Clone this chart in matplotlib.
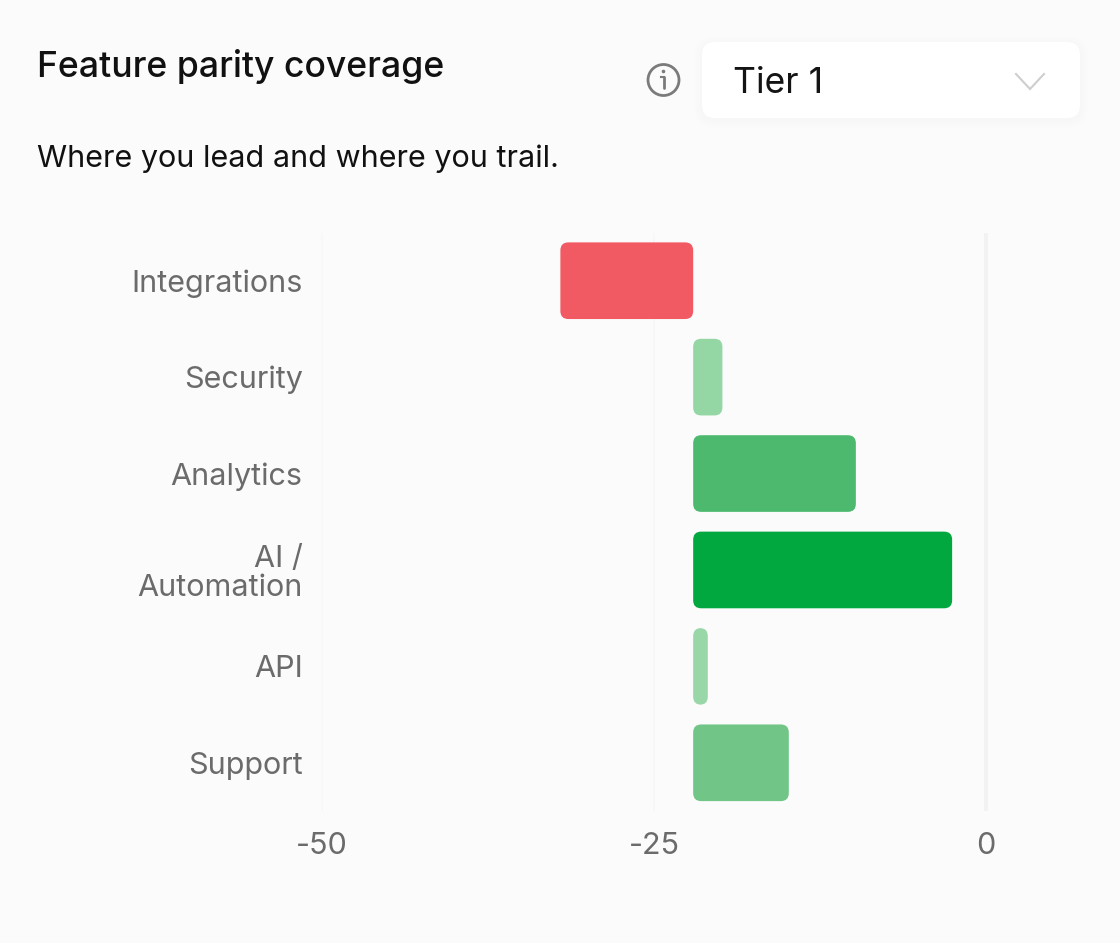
import matplotlib
matplotlib.use('Agg')
from matplotlib import pyplot as plt
from matplotlib.patches import FancyBboxPatch, Circle

plt.rcParams['font.family'] = ['Inter', 'DejaVu Sans']

categories = ['Integrations', 'Security', 'Analytics', 'AI /\nAutomation', 'API', 'Support']
baseline = -22.05
gaps = [-10.0, 2.2, 12.25, 19.5, 1.1, 7.2]
x_ticks = [-50, -25, 0]
bar_colors = ['#F25A63', '#95D6A5', '#4CB96F', '#00A83F', '#99D7A8', '#70C587']

W, H = 1120, 943
BG = '#FBFBFB'
TEXT_GRAY = '#6B6B6B'


def fx(px):
    return px / W


def fy(py):
    return 1 - py / H


fig = plt.figure(figsize=(W / 100, H / 100), dpi=100, facecolor=BG)

# plot area spans the -50..0 range, six equal rows
left, right, top, bottom = 322, 986, 232.5, 811
ax = fig.add_axes([fx(left), fy(bottom), (right - left) / W, (bottom - top) / H])
ax.set_facecolor('none')
ax.set_xlim(-50, 0)
ax.set_ylim(len(categories) - 0.5, -0.5)
for s in ax.spines.values():
    s.set_visible(False)

ax.axvline(-50, color='#F8F8F8', lw=1.4, clip_on=False, zorder=1, solid_capstyle='butt')
ax.axvline(-25, color='#F7F7F7', lw=1.4, clip_on=False, zorder=1, solid_capstyle='butt')
ax.axvline(0, color='#F2F2F2', lw=2.6, clip_on=False, zorder=1, solid_capstyle='butt')

# rounded bars, all starting from the shared baseline
px_x = (right - left) / 50
px_y = (bottom - top) / len(categories)
radius = 8 / px_x
bar_h = 0.795
for i, gap in enumerate(gaps):
    x0 = min(baseline, baseline + gap)
    ax.add_patch(FancyBboxPatch((x0, i - bar_h / 2), abs(gap), bar_h,
                                boxstyle='round,pad=0,rounding_size=%f' % radius,
                                mutation_aspect=px_x / px_y,
                                fc=bar_colors[i], ec='none', zorder=3))

ax.set_xticks(x_ticks)
ax.set_xticklabels([str(t) for t in x_ticks])
ax.set_yticks(range(len(categories)))
ax.set_yticklabels(categories, linespacing=1.05, ha='right', multialignment='right')
ax.tick_params(axis='both', length=0, labelsize=22, labelcolor=TEXT_GRAY)
ax.tick_params(axis='x', pad=15)
ax.tick_params(axis='y', pad=14)

# header texts
fig.text(fx(37), fy(77), 'Feature parity coverage', fontsize=25.6, fontweight=500,
         color='#111111', va='baseline')
fig.text(fx(37), fy(167), 'Where you lead and where you trail.', fontsize=22,
         color='#111111', va='baseline')

# overlay axes in pixel coordinates for the header controls
ui = fig.add_axes([0, 0, 1, 1], zorder=5)
ui.set_xlim(0, W)
ui.set_ylim(H, 0)
ui.axis('off')

# soft shadow under the dropdown
for grow in (8, 6, 4, 2):
    ui.add_patch(FancyBboxPatch((702 - grow, 44 - grow), 378 + 2 * grow, 76 + 2 * grow,
                                boxstyle='round,pad=0,rounding_size=%d' % (13 + grow),
                                fc='#000000', ec='none', alpha=0.003))
ui.add_patch(FancyBboxPatch((702, 42), 378, 76, boxstyle='round,pad=0,rounding_size=13',
                            fc='white', ec='none'))
ui.text(733, 93, 'Tier 1', fontsize=25.5, color='#141414', va='baseline')
ui.plot([1016, 1030, 1044], [74, 89, 74], color='#CECECE', lw=1.5, solid_joinstyle='miter')

ui.add_patch(Circle((663.5, 80), 15.5, fc='none', ec='#7B7B7B', lw=2.0))
ui.plot([663.5, 663.5], [77, 88], color='#7B7B7B', lw=2.0, solid_capstyle='round')
ui.plot([660.5, 663.5], [77, 77], color='#7B7B7B', lw=1.5)
ui.add_patch(Circle((663.5, 71.5), 1.8, fc='#7B7B7B', ec='none'))

fig.savefig('out.png', dpi=100, facecolor=BG)
